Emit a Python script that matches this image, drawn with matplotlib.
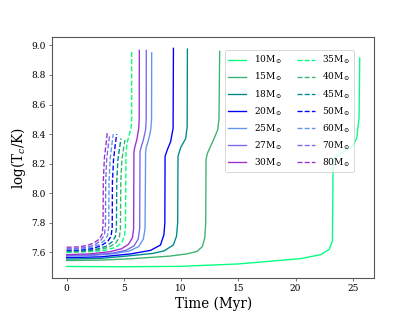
import matplotlib
matplotlib.use("Agg")
import matplotlib.pyplot as plt

plt.rcParams['font.family'] = 'serif'
plt.rcParams['font.serif'] = ['DejaVu Serif']
plt.rcParams['mathtext.fontset'] = 'dejavuserif'

# ---- data (time in Myr, log Tc) ----
masses = [10, 15, 18, 20, 25, 27, 30, 35, 40, 45, 50, 60, 70, 80]
colors = ['springgreen', 'mediumseagreen', 'darkcyan', 'blue', 'cornflowerblue',
          'mediumslateblue', 'darkorchid',
          'springgreen', 'mediumseagreen', 'darkcyan', 'blue', 'cornflowerblue',
          'mediumslateblue', 'darkorchid']
styles = ['-'] * 7 + ['--'] * 7

t_10 = [0, 5, 10, 15, 20.45, 22.2, 22.93, 23.22, 23.28, 23.37, 24.24, 24.97, 25.35, 25.55, 25.61]
T_10 = [7.505, 7.503, 7.506, 7.522, 7.558, 7.585, 7.62, 7.675, 8.18, 8.238, 8.283, 8.317, 8.373, 8.51, 8.915]

t_15 = [0, 3, 5.6, 9, 10.5, 11.4, 11.86, 12.07, 12.15, 12.18, 12.3, 12.88, 13.2, 13.31, 13.37]
T_15 = [7.545, 7.548, 7.557, 7.575, 7.59, 7.607, 7.64, 7.70, 7.80, 8.23, 8.27, 8.37, 8.43, 8.5, 8.96]

t_18 = [0, 3, 5.6, 7.5, 8.5, 9.32, 9.6, 9.7, 9.73, 9.97, 10.4, 10.53, 10.55]
T_18 = [7.555, 7.56, 7.578, 7.593, 7.61, 7.65, 7.71, 7.80, 8.25, 8.31, 8.37, 8.45, 8.975]

t_20 = [0, 3, 5.6, 7.34, 8.2, 8.5, 8.58, 8.6, 8.8, 9.09, 9.3, 9.33]
T_20 = [7.565, 7.57, 7.59, 7.614, 7.65, 7.72, 7.80, 8.25, 8.295, 8.35, 8.44, 8.98]

t_25 = [0, 2, 4, 5.5, 6.3, 6.7, 6.85, 6.9, 6.95, 7.15, 7.35, 7.42, 7.43]
T_25 = [7.575, 7.578, 7.59, 7.61, 7.64, 7.69, 7.76, 8.28, 8.31, 8.36, 8.43, 8.5, 8.95]

t_27 = [0, 2, 4, 5.2, 5.9, 6.25, 6.38, 6.41, 6.5, 6.7, 6.9, 6.95, 6.96]
T_27 = [7.58, 7.583, 7.595, 7.615, 7.645, 7.69, 7.76, 8.28, 8.31, 8.36, 8.43, 8.5, 8.966]

t_30 = [0, 2, 3.8, 4.8, 5.4, 5.75, 5.85, 5.88, 5.95, 6.15, 6.3, 6.34, 6.35]
T_30 = [7.585, 7.59, 7.605, 7.625, 7.655, 7.70, 7.76, 8.28, 8.31, 8.37, 8.44, 8.5, 8.966]

t_35 = [0, 2, 3.4, 4.3, 4.8, 5.05, 5.14, 5.18, 5.28, 5.45, 5.63, 5.68, 5.68]
T_35 = [7.60, 7.605, 7.615, 7.635, 7.665, 7.71, 7.77, 8.27, 8.34, 8.39, 8.44, 8.5, 8.97]

t_40 = [0, 1.5, 2.8, 3.7, 4.3, 4.6, 4.7, 4.73, 4.82, 4.98, 5.1]
T_40 = [7.605, 7.607, 7.617, 7.635, 7.665, 7.70, 7.76, 8.08, 8.22, 8.31, 8.36]

t_45 = [0, 1.5, 2.6, 3.4, 3.95, 4.25, 4.35, 4.38, 4.47, 4.63, 4.75]
T_45 = [7.61, 7.612, 7.622, 7.64, 7.67, 7.705, 7.765, 8.08, 8.22, 8.31, 8.37]

t_50 = [0, 1.2, 2.3, 3.0, 3.6, 3.88, 3.98, 4.0, 4.1, 4.25, 4.37]
T_50 = [7.615, 7.617, 7.627, 7.645, 7.675, 7.71, 7.77, 8.08, 8.23, 8.33, 8.40]

t_60 = [0, 1.2, 2.1, 2.8, 3.3, 3.58, 3.68, 3.7, 3.8, 3.95, 4.07]
T_60 = [7.62, 7.622, 7.632, 7.65, 7.68, 7.715, 7.775, 8.08, 8.23, 8.33, 8.40]

t_70 = [0, 1.0, 1.9, 2.55, 3.02, 3.3, 3.39, 3.41, 3.5, 3.65, 3.77]
T_70 = [7.625, 7.627, 7.637, 7.655, 7.685, 7.72, 7.78, 8.08, 8.23, 8.33, 8.40]

t_80 = [0, 1.0, 1.8, 2.4, 2.85, 3.1, 3.18, 3.2, 3.3, 3.45, 3.55]
T_80 = [7.635, 7.637, 7.647, 7.665, 7.69, 7.725, 7.785, 8.08, 8.24, 8.34, 8.41]

times = [t_10, t_15, t_18, t_20, t_25, t_27, t_30, t_35, t_40, t_45, t_50, t_60, t_70, t_80]
temps = [T_10, T_15, T_18, T_20, T_25, T_27, T_30, T_35, T_40, T_45, T_50, T_60, T_70, T_80]

fig, ax = plt.subplots(figsize=(6.4, 4.8), dpi=65)
for m, c, ls, t, T in zip(masses, colors, styles, times, temps):
    ax.plot(t, T, color=c, ls=ls, lw=1.5, label=r'%dM$_\odot$' % m)

ax.set_xlabel('Time (Myr)', fontsize=15)
ax.set_ylabel(r'log(T$_c$/K)', fontsize=15)
ax.tick_params(labelsize=10, color='#444444')
for sp in ax.spines.values():
    sp.set_color('#555555')
    sp.set_linewidth(1.2)
ax.legend(ncol=2, loc='upper right', bbox_to_anchor=(0.951, 0.965), fontsize=10,
          columnspacing=1.6)

fig.savefig('out.png', dpi=65)
